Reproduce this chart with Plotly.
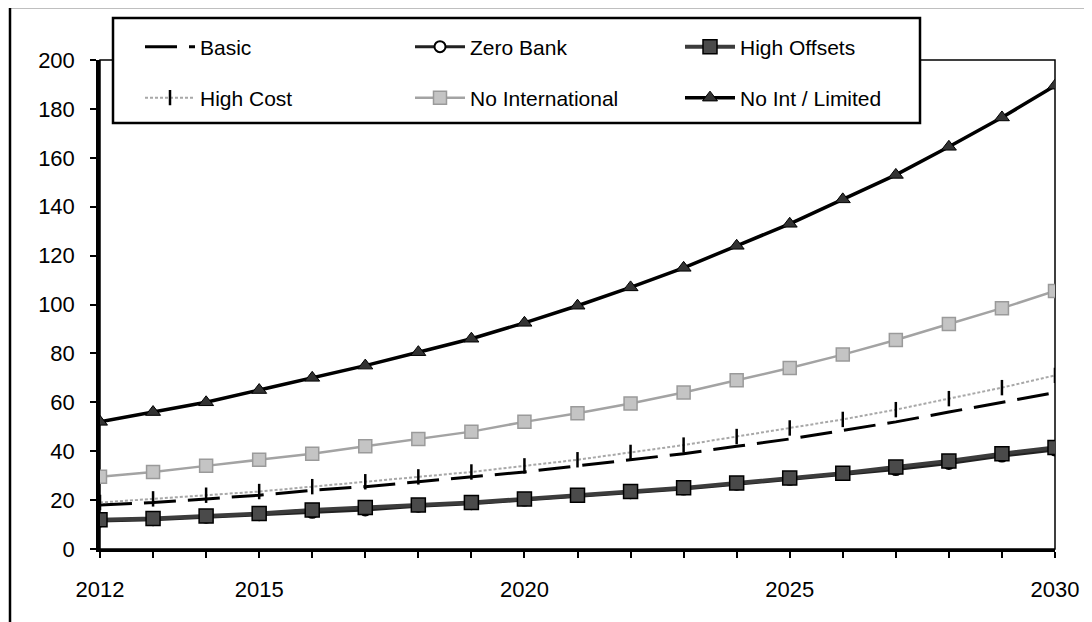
import plotly.graph_objects as go

years = list(range(2012, 2031))
basic = [18, 19, 20.5, 22, 24, 25.5, 27.5, 29.5, 31.5, 34, 36.5, 39, 42, 45, 48.5, 52, 56, 60, 64]
zero_bank = [11.5, 12, 13, 14, 15, 16, 17.5, 18.5, 20, 21.5, 23, 24.5, 26.5, 28.5, 30.5, 32.5, 35, 38, 40.5]
high_offsets = [12, 12.5, 13.5, 14.5, 16, 17, 18, 19, 20.5, 22, 23.5, 25, 27, 29, 31, 33.5, 36, 39, 41.5]
high_cost = [19, 20.5, 22, 23.5, 25.5, 27.5, 29.5, 31.5, 34, 36.5, 39.5, 42.5, 46, 49.5, 53, 57, 61.5, 66, 71]
no_international = [29.5, 31.5, 34, 36.5, 39, 42, 45, 48, 52, 55.5, 59.5, 64, 69, 74, 79.5, 85.5, 92, 98.5, 105.5]
no_int_limited = [52, 56, 60, 65, 70, 75, 80.5, 86, 92.5, 99.5, 107, 115, 124, 133, 143, 153, 164.5, 176.5, 189.5]

x_labels = {2012: "2012", 2015: "2015", 2020: "2020", 2025: "2025", 2030: "2030"}
y_ticks = list(range(0, 201, 20))

FONT = "Liberation Sans, Arial, sans-serif"

fig = go.Figure()

# Row 1 legend traces
fig.add_trace(go.Scatter(x=years, y=basic, name="Basic", mode="lines",
                         line=dict(color="black", width=3, dash="32px,12px"),
                         legend="legend"))
fig.add_trace(go.Scatter(x=years, y=zero_bank, name="Zero Bank", mode="lines+markers",
                         line=dict(color="#222222", width=3),
                         marker=dict(symbol="circle", size=11, color="white",
                                     line=dict(color="black", width=2)),
                         legend="legend"))
fig.add_trace(go.Scatter(x=years, y=high_offsets, name="High Offsets", mode="lines+markers",
                         line=dict(color="#3c3c3c", width=4),
                         marker=dict(symbol="square", size=14, color="#4a4a4a",
                                     line=dict(color="black", width=1.5)),
                         legend="legend"))
# Row 2 legend traces
fig.add_trace(go.Scatter(x=years, y=high_cost, name="High Cost", mode="lines+markers",
                         line=dict(color="#a8a8a8", width=2, dash="3px,2px"),
                         marker=dict(symbol="line-ns-open", size=11, color="black",
                                     line=dict(color="black", width=2.5)),
                         legend="legend2"))
fig.add_trace(go.Scatter(x=years, y=no_international, name="No International", mode="lines+markers",
                         line=dict(color="#a3a3a3", width=2.5),
                         marker=dict(symbol="square", size=13, color="#c4c4c4",
                                     line=dict(color="#9a9a9a", width=1.5)),
                         legend="legend2"))
fig.add_trace(go.Scatter(x=years, y=no_int_limited, name="No Int / Limited", mode="lines+markers",
                         line=dict(color="black", width=3.5),
                         marker=dict(symbol="triangle-up", size=13, color="#333333",
                                     line=dict(color="black", width=1)),
                         legend="legend2"))

# pixel (screen) -> paper helpers (plot area on screen: x 100..1055, y 60..549)
def px(xp):
    return (xp - 100) / 955.0

def py(yp):
    return (549 - yp) / 489.0

legend_common = dict(orientation="h", xanchor="left", yanchor="middle",
                     bgcolor="rgba(0,0,0,0)", borderwidth=0,
                     font=dict(family=FONT, size=21, color="black"),
                     entrywidth=205, entrywidthmode="pixels", itemwidth=50,
                     traceorder="normal")

# page body has an 8px default margin, so the figure is offset by 8px
fig.update_layout(
    width=1084, height=614,
    margin=dict(l=92, r=37, t=52, b=73, autoexpand=False),
    paper_bgcolor="white", plot_bgcolor="white",
    font=dict(family=FONT, size=21, color="black"),
    showlegend=True,
    legend=dict(x=px(140), y=py(47), **legend_common),
    legend2=dict(x=px(140), y=py(98), **legend_common),
    xaxis=dict(range=[2012, 2030], tickvals=years,
               ticktext=[x_labels.get(y, "") for y in years],
               showgrid=False, zeroline=False, automargin=False,
               showline=True, linecolor="black", linewidth=2.5,
               ticks="outside", ticklen=6, tickwidth=2, tickcolor="black",
               ticklabelstandoff=13,
               tickfont=dict(family=FONT, size=22, color="black")),
    yaxis=dict(range=[0, 200], tickvals=y_ticks,
               showgrid=False, zeroline=False, automargin=False,
               showline=True, linecolor="black", linewidth=3.5,
               ticks="outside", ticklen=6, tickwidth=2, tickcolor="black",
               ticklabelstandoff=11,
               tickfont=dict(family=FONT, size=22, color="black")),
    shapes=[
        # plot area frame (thin)
        dict(type="rect", xref="paper", yref="paper", x0=0, x1=1, y0=0, y1=1,
             line=dict(color="black", width=1.5), layer="below"),
        # outer chart border (left & top)
        dict(type="line", xref="paper", yref="paper", x0=px(10), x1=px(10),
             y0=py(640), y1=py(7), line=dict(color="black", width=2.5)),
        dict(type="line", xref="paper", yref="paper", x0=px(10), x1=px(1100),
             y0=py(7), y1=py(7), line=dict(color="black", width=2.5)),
        # legend box
        dict(type="rect", xref="paper", yref="paper", x0=px(113), x1=px(920),
             y0=py(123), y1=py(18), fillcolor="white",
             line=dict(color="black", width=2.5), layer="above"),
    ],
)

fig.write_html("out.html")
